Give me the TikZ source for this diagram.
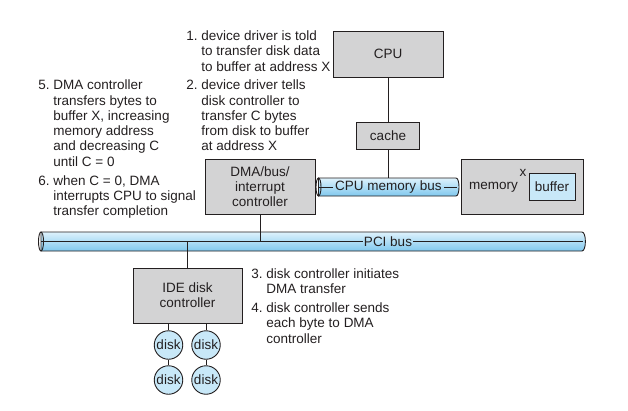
\documentclass[tikz,border=0pt]{standalone}
\usepackage{fontspec}
\setmainfont{Liberation Sans}
\usetikzlibrary{positioning,calc}
\usepackage{xcolor}
\definecolor{boxgray}{RGB}{211,211,212}
\definecolor{disklight}{RGB}{200,232,248}
\definecolor{pipetop}{RGB}{222,242,252}
\definecolor{pipebot}{RGB}{128,200,238}
\definecolor{ink}{RGB}{35,31,32}

\begin{document}
\begin{tikzpicture}[x=1pt, y=-1pt, line width=0.9pt, color=ink,
    font=\fontsize{13.5}{15.3}\selectfont,
    box/.style={draw, fill=boxgray, align=center, inner sep=0pt},
    disk/.style={draw, fill=disklight, circle, minimum size=28.5pt, inner sep=0pt},
    note/.style={anchor=north west, inner sep=0pt},
    pipe/.style={draw, top color=pipetop, bottom color=pipebot}]
    \useasboundingbox (0,0) rectangle (628,410);

    % The boxes
    \node[box, minimum width=110pt, minimum height=46pt] (cpu) at (388,54) {CPU};
    \node[box, minimum width=63pt, minimum height=27pt] (cache) at (388,135.5) {cache};
    \node[box, minimum width=110pt, minimum height=55pt] (dma) at (260,186.5) {DMA/bus/\\interrupt\\controller};
    \node[box, minimum width=122pt, minimum height=55pt] (mem) at (522,186.5) {};
    \node[box, fill=disklight, minimum width=46pt, minimum height=27pt] (buffer) at (552,186.5) {buffer};
    \node (memlabel) at (493.5,187) {memory};
    \node (xlabel) at (523,173) {x};
    \node[box, minimum width=109pt, minimum height=55pt] (ide) at (187.5,295.5) {IDE disk\\controller};

    % CPU memory bus
    \path[pipe] (318.5,178) -- (456,178) .. controls (460,178) and (460,196) .. (456,196) -- (318.5,196) -- cycle;
    \draw (318.5,187) ellipse [x radius=2.5, y radius=9];
    \node[inner sep=2pt] (membus) at (388.5,187) {CPU memory bus};
    \coordinate (mbl) at (318.5,187);
    \coordinate (mbr) at (457,187);
    \draw[line width=0.6pt] (mbl) -- (membus.west);
    \draw[line width=0.6pt] (membus.east) -- (mbr);

    % PCI bus
    \path[pipe] (41,232) -- (582,232) .. controls (586.5,232) and (586.5,251) .. (582,251) -- (41,251) -- cycle;
    \draw (41,241.5) ellipse [x radius=2.5, y radius=9.5];
    \node[inner sep=1pt] (pci) at (388,241.5) {PCI bus};
    \coordinate (pcil) at (41,241.5);
    \coordinate (pcir) at (583,241.5);
    \draw[line width=0.6pt] (pcil) -- (pci.west);
    \draw[line width=0.6pt] (pci.east) -- (pcir);

    % Disks
    \foreach \col/\x in {a/168.5,b/206} {
        \node[disk] (disk\col1) at (\x,345) {disk};
        \node[disk] (disk\col2) at (\x,380) {disk};
        \draw[line width=0.6pt] (ide.south -| disk\col1.north) -- (disk\col1);
        \draw[line width=0.6pt] (disk\col1) -- (disk\col2);
    }

    % Connections
    \draw[line width=0.6pt] (cpu) -- (cache);
    \draw[line width=0.6pt] (cache) -- (cache.south |- membus.north);
    \draw[line width=0.6pt] (dma) -- (dma.south |- pcil);
    \draw[line width=0.6pt] (ide.north) -- (ide.north |- pcil);

    % The steps
    \node[note] (step1) at (186,29.5) {\begin{tabular}{@{}l@{\ }l@{}}1.&device driver is told\\&to transfer disk data\\&to buffer at address X\end{tabular}};
    \node[note] (step2) at (186,78.6) {\begin{tabular}{@{}l@{\ }l@{}}2.&device driver tells\\&disk controller to\\&transfer C bytes\\&from disk to buffer\\&at address X\end{tabular}};
    \node[note] (step3) at (251,266.9) {\begin{tabular}{@{}l@{\ }l@{}}3.&disk controller initiates\\&DMA transfer\end{tabular}};
    \node[note] (step4) at (251,301.5) {\begin{tabular}{@{}l@{\ }l@{}}4.&disk controller sends\\&each byte to DMA\\&controller\end{tabular}};
    \node[note] (step5) at (38,78.6) {\begin{tabular}{@{}l@{\ }l@{}}5.&DMA controller\\&transfers bytes to\\&buffer X, increasing\\&memory address\\&and decreasing C\\&until C = 0\end{tabular}};
    \node[note] (step6) at (38,173.9) {\begin{tabular}{@{}l@{\ }l@{}}6.&when C = 0, DMA\\&interrupts CPU to signal\\&transfer completion\end{tabular}};
\end{tikzpicture}
\end{document}
